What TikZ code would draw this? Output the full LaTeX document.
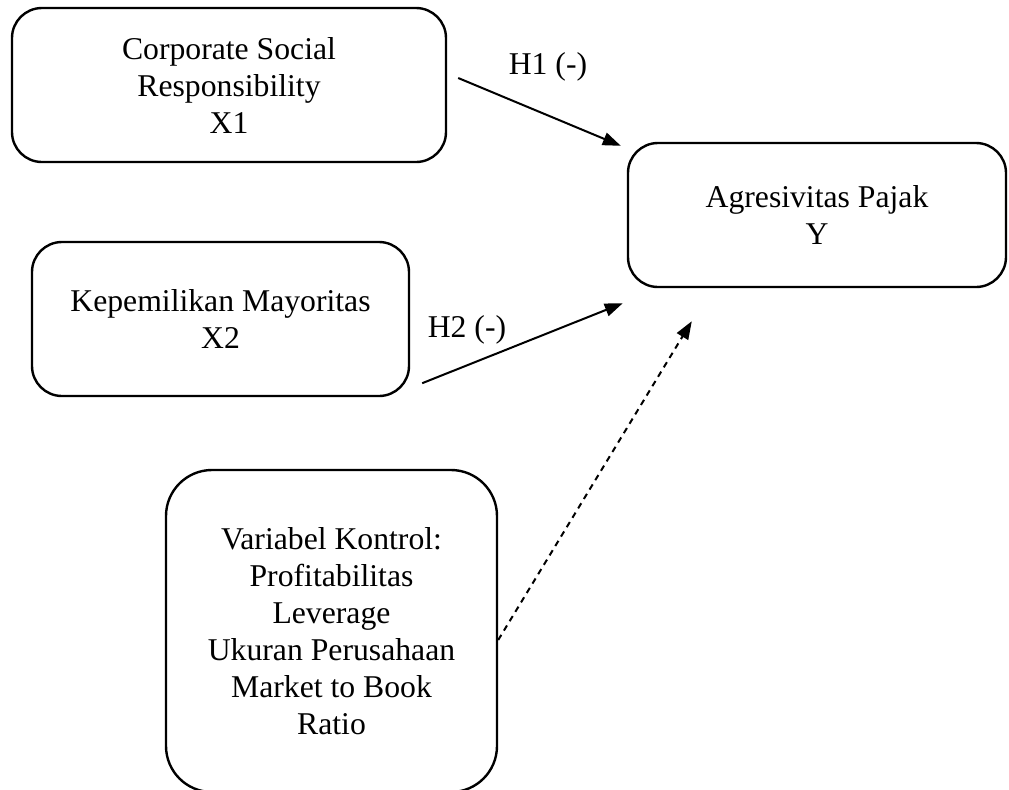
\documentclass[tikz,border=0pt]{standalone}
\usepackage{fontspec}
\setmainfont{Liberation Serif}
\usetikzlibrary{arrows.meta,positioning}

\begin{document}
\begin{tikzpicture}[x=0.5pt,y=-0.5pt,>={Triangle[length=9pt,width=6.5pt]},
  varbox/.style={draw,line width=1.2pt,rounded corners=15pt,align=center,inner sep=0pt,
    font=\fontsize{15.85}{18.5}\selectfont},
  arr/.style={->,line width=1pt},
  lbl/.style={font=\fontsize{15.85}{18.5}\selectfont}]
  \useasboundingbox (0,0) rectangle (1009,789);
  \node[varbox,minimum width=217pt,minimum height=77pt] (x1) at (229,85) {Corporate Social\\Responsibility\\X1};
  \node[varbox,minimum width=188.5pt,minimum height=77pt] (x2) at (220.5,319) {Kepemilikan Mayoritas\\X2};
  \node[varbox,minimum width=189pt,minimum height=72pt] (y) at (817,215) {Agresivitas Pajak\\Y};
  \node[varbox,rounded corners=23pt,minimum width=165.5pt,minimum height=161pt] (ctrl) at (331.5,631)
    {Variabel Kontrol:\\Profitabilitas\\Leverage\\Ukuran Perusahaan\\Market to Book\\Ratio};
  \draw[arr] ([xshift=5.5pt,yshift=3.5pt]x1.east) -- ([xshift=-3pt,yshift=-2pt]y.north west);
  \draw[arr] ([xshift=6pt,yshift=7pt]x2.south east) -- ([xshift=-2pt,yshift=-7.5pt]y.south west);
  \draw[arr,dash pattern=on 3pt off 2.5pt] ([yshift=-4.5pt]ctrl.east) -- ([xshift=32.5pt,yshift=-16.5pt]y.south west);
  \node[lbl] (h1) at (548,67) {H1 (-)};
  \node[lbl] (h2) at (467,330) {H2 (-)};
\end{tikzpicture}
\end{document}
